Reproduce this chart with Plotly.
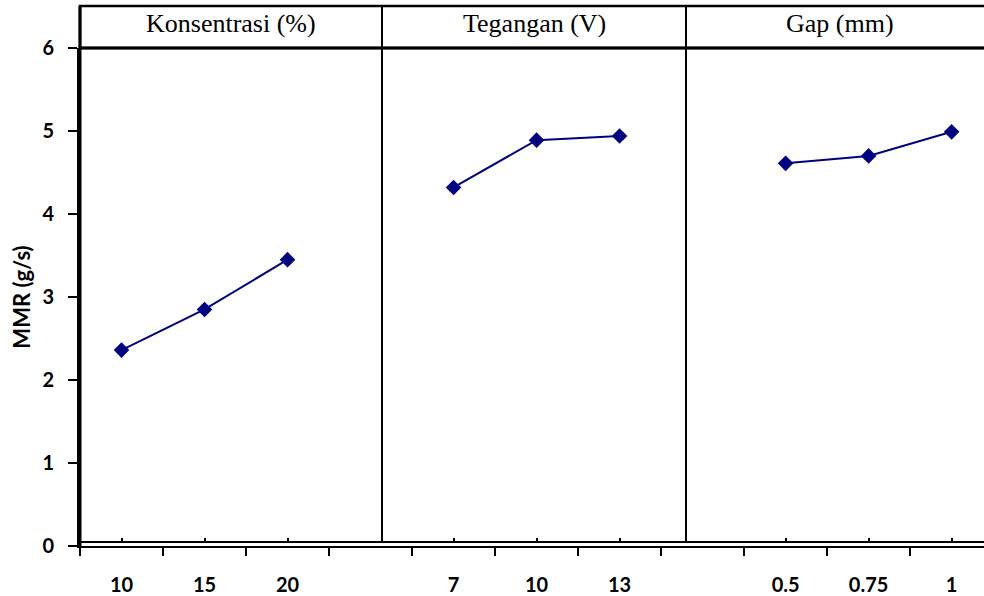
import plotly.graph_objects as go

# ---- data ----
panel_titles = ["Konsentrasi (%)", "Tegangan (V)", "Gap (mm)"]
konsentrasi_levels = ["10", "15", "20"]
konsentrasi_mmr = [2.36, 2.85, 3.45]
tegangan_levels = ["7", "10", "13"]
tegangan_mmr = [4.32, 4.89, 4.94]
gap_levels = ["0.5", "0.75", "1"]
gap_mmr = [4.61, 4.70, 4.99]

# category slots: 3 levels, blank slot, 3 levels, blank slot, 3 levels
pos_k = [0, 1, 2]
pos_t = [4, 5, 6]
pos_g = [8, 9, 10]

NAVY = "#000080"
FONT = "Lato"
TICK_SIZE = 20

fig = go.Figure()
for xs, ys in [(pos_k, konsentrasi_mmr), (pos_t, tegangan_mmr), (pos_g, gap_mmr)]:
    fig.add_trace(go.Scatter(
        x=xs, y=ys, mode="lines+markers",
        line=dict(color=NAVY, width=2),
        marker=dict(symbol="diamond", size=12, color=NAVY),
        showlegend=False, hoverinfo="x+y",
    ))

xr = [-0.5, 10.39]
centers = pos_k + pos_t + pos_g
labels = konsentrasi_levels + tegangan_levels + gap_levels
bounds = [i - 0.5 for i in range(11)]

fig.update_layout(
    width=984, height=596,
    margin=dict(l=80, r=0, t=48, b=50),
    paper_bgcolor="white", plot_bgcolor="white",
    font=dict(family=FONT, color="black"),
    xaxis=dict(
        range=xr, tickmode="array", tickvals=bounds, showticklabels=False,
        ticks="outside", ticklen=8, tickwidth=2, tickcolor="black",
        showline=True, linecolor="black", linewidth=2,
        showgrid=False, zeroline=False, automargin=False,
    ),
    xaxis2=dict(
        range=xr, overlaying="x", anchor="free", position=4 / 498,
        tickmode="array", tickvals=centers, showticklabels=False,
        ticks="inside", ticklen=3, tickwidth=2, tickcolor="black",
        showline=True, linecolor="black", linewidth=2,
        showgrid=False, zeroline=False, automargin=False,
    ),
    xaxis3=dict(
        range=xr, overlaying="x", anchor="y", side="bottom",
        tickmode="array", tickvals=centers, ticktext=labels,
        ticks="", ticklabelstandoff=25,
        tickfont=dict(family=FONT, size=TICK_SIZE, color="black", weight="bold"),
        showline=False, showgrid=False, zeroline=False, automargin=False,
    ),
    yaxis=dict(
        range=[0, 6], tickmode="array", tickvals=[0, 1, 2, 3, 4, 5, 6],
        ticks="outside", ticklen=9, tickwidth=2, tickcolor="black",
        tickfont=dict(family=FONT, size=TICK_SIZE, color="black", weight="bold"),
        ticklabelstandoff=10,
        showline=True, linecolor="black", linewidth=3,
        showgrid=False, zeroline=False, automargin=False,
        title=dict(text="MMR (g/s)", standoff=6,
                   font=dict(family=FONT, size=22, color="black", weight="bold")),
    ),
)

# invisible traces to activate xaxis2 and xaxis3
fig.add_trace(go.Scatter(x=[None], y=[None], xaxis="x2", showlegend=False, hoverinfo="skip"))
fig.add_trace(go.Scatter(x=[None], y=[None], xaxis="x3", showlegend=False, hoverinfo="skip"))

# header band and panel frame
top_y = 1 + 42 / 498
fig.add_shape(type="rect", xref="paper", yref="paper", x0=0, x1=1.05, y0=1, y1=top_y,
              line=dict(color="black", width=2.5), fillcolor="rgba(0,0,0,0)", layer="above")
fig.add_shape(type="line", xref="paper", yref="paper", x0=0, x1=1, y0=1, y1=1,
              line=dict(color="black", width=3))
fig.add_shape(type="line", xref="paper", yref="paper", x0=0, x1=0, y0=0, y1=top_y,
              line=dict(color="black", width=3))
div_x = [(382 - 80) / 904, (686 - 80) / 904]
for dx in div_x:
    fig.add_shape(type="line", xref="paper", yref="paper", x0=dx, x1=dx, y0=4 / 498, y1=top_y,
                  line=dict(color="black", width=2))

edges = [0] + div_x + [(993 - 80) / 904]
for i, t in enumerate(panel_titles):
    fig.add_annotation(
        x=(edges[i] + edges[i + 1]) / 2, y=(1 + top_y) / 2, xref="paper", yref="paper",
        text=t, showarrow=False, xanchor="center", yanchor="middle", yshift=3,
        font=dict(family="Liberation Serif", size=26, color="black"),
    )

fig.write_html("out.html", config={"displayModeBar": False},
               post_script="document.body.style.margin='0px';")
